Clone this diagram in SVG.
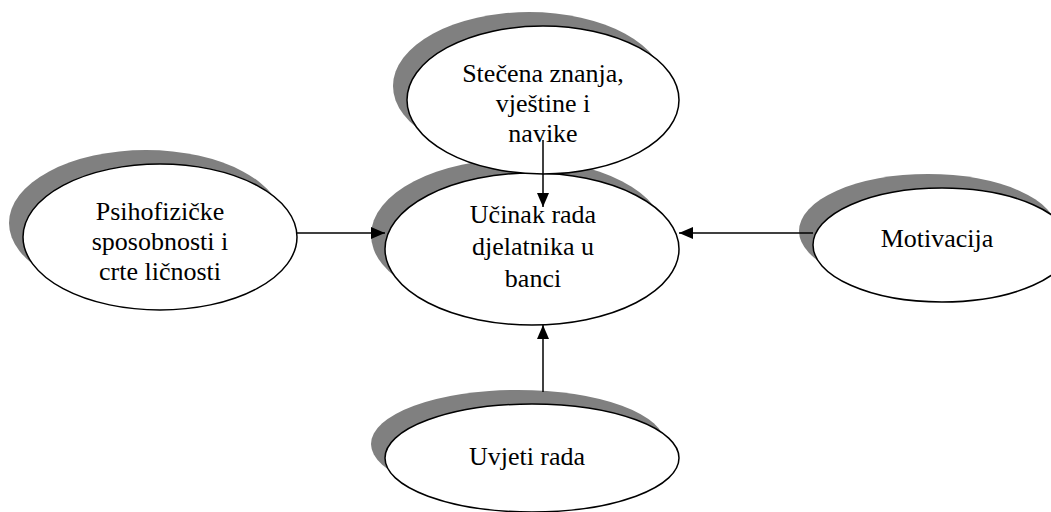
<svg xmlns="http://www.w3.org/2000/svg" width="1051" height="512" viewBox="0 0 1051 512">
<style>
.sh{fill:#808080;stroke:none}
.el{fill:#fff;stroke:#000;stroke-width:1.5}
.t{font-family:"Liberation Serif","Times New Roman",serif;font-size:26px;fill:#000;text-anchor:middle}
.c{stroke:#000;stroke-width:1.5;fill:none;marker-end:url(#ah)}
</style>
<defs>
<marker id="ah" viewBox="0 0 14 12" refX="14" refY="6" markerWidth="14" markerHeight="12" markerUnits="userSpaceOnUse" orient="auto">
<path d="M0,0 L14,6 L0,12 Z" fill="#000"/>
</marker>
</defs>
<rect width="1051" height="512" fill="#fff"/>
<g id="center">
<ellipse class="sh" cx="518" cy="235" rx="147" ry="76"/>
<ellipse class="el" cx="532" cy="249" rx="147" ry="76"/>
<text class="t" x="533" y="223">Učinak rada</text>
<text class="t" x="533" y="255">djelatnika u</text>
<text class="t" x="533" y="287">banci</text>
</g>
<g id="top">
<ellipse class="sh" cx="529" cy="86" rx="136" ry="74"/>
<ellipse class="el" cx="543" cy="100" rx="136" ry="74"/>
<text class="t" x="543" y="82">Stečena znanja,</text>
<text class="t" x="543" y="112">vještine i</text>
<text class="t" x="543" y="142">navike</text>
</g>
<g id="left">
<ellipse class="sh" cx="146" cy="223" rx="137" ry="73"/>
<ellipse class="el" cx="160" cy="237" rx="137" ry="73"/>
<text class="t" x="160" y="220">Psihofizičke</text>
<text class="t" x="160" y="250">sposobnosti i</text>
<text class="t" x="160" y="280">crte ličnosti</text>
</g>
<g id="right">
<ellipse class="sh" cx="928" cy="231" rx="129" ry="57"/>
<ellipse class="el" cx="942" cy="245" rx="129" ry="57"/>
<text class="t" x="937" y="247">Motivacija</text>
</g>
<g id="bottom">
<ellipse class="sh" cx="518" cy="444" rx="147" ry="54"/>
<ellipse class="el" cx="532" cy="458" rx="147" ry="54"/>
<text class="t" x="527" y="465">Uvjeti rada</text>
</g>
<g id="connectors">
<line class="c" x1="543" y1="140" x2="543" y2="207"/>
<line class="c" x1="297" y1="233" x2="385" y2="233"/>
<line class="c" x1="813" y1="233" x2="679" y2="233"/>
<line class="c" x1="543" y1="392" x2="543" y2="325"/>
</g>
</svg>
